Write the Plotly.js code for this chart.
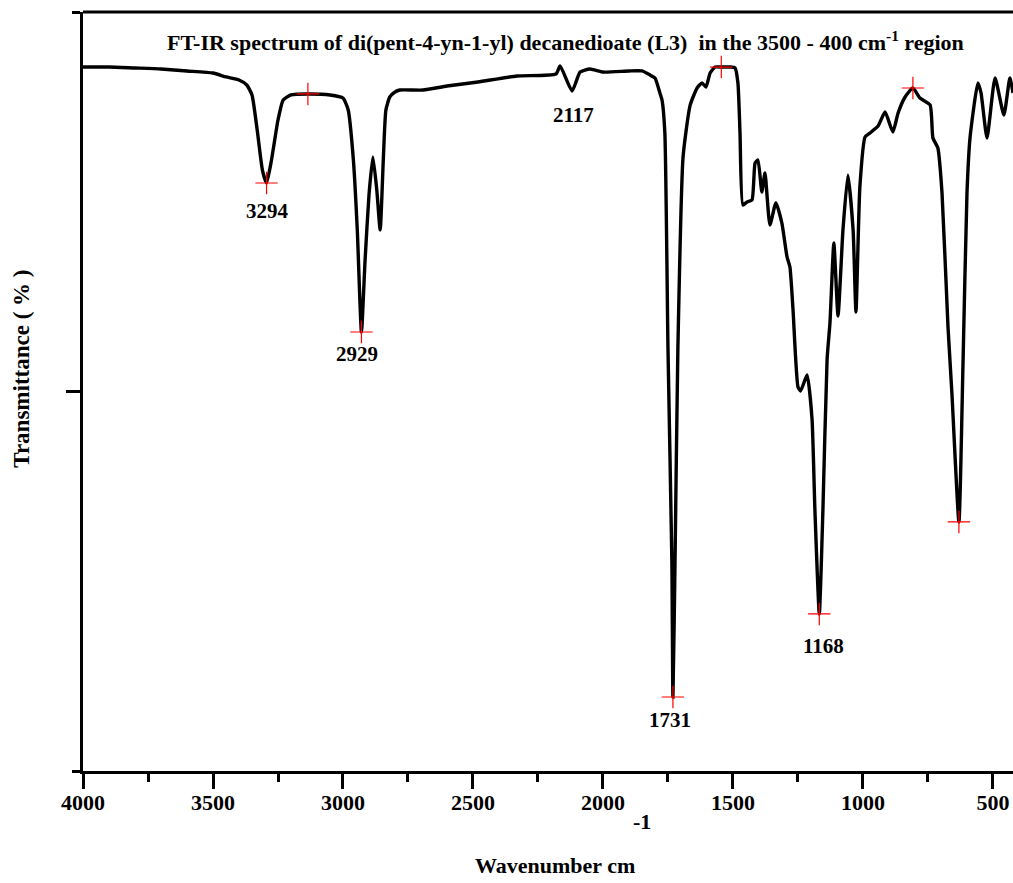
<!DOCTYPE html>
<html>
<head>
<meta charset="utf-8">
<script src="https://cdn.plot.ly/plotly-3.0.1.min.js"></script>
<style>html,body{margin:0;padding:0;background:#fff;}#chart{width:1013px;height:883px;}</style>
</head>
<body>
<div id="chart"></div>
<script>
// Spectrum trace (wavenumber cm-1, transmittance %)
var wavenumber = [4000,3900,3800,3700,3600,3500,3450,3400,3370,3350,3330,3310,3294,3275,3250,3230,3200,3135,3050,3000,2980,2960,2945,2929,2915,2900,2885,2870,2857,2845,2835,2820,2800,2781,2692,2600,2481,2331,2181,2165,2119,2088,2050,2000,1900,1850,1819,1800,1781,1773,1762,1750,1735,1731,1723,1712,1692,1665,1638,1619,1604,1588,1569,1545,1510,1492,1481,1473,1462,1446,1427,1415,1404,1389,1377,1358,1335,1312,1292,1281,1269,1250,1240,1215,1196,1185,1168,1154,1138,1127,1112,1096,1077,1058,1038,1027,1012,992,973,942,915,885,865,838,808,781,742,731,712,696,673,658,631,615,600,588,558,546,523,492,458,435,423];
var transmittance = [92.75,92.75,92.62,92.49,92.23,91.96,91.44,91.04,90.38,89.07,84.45,79.18,77.47,80.50,85.77,88.41,89.07,89.20,89.07,88.67,87.09,80.50,71.28,57.84,67.33,75.89,80.90,76.55,71.28,80.50,87.09,88.80,89.46,89.72,89.72,90.25,90.78,91.57,91.83,92.89,89.59,92.09,92.49,92.09,92.23,92.23,91.70,91.30,89.33,88.41,84.0,55.6,27.4,9.75,27.4,55.6,80.9,87.7,89.99,90.65,90.12,91.96,92.75,92.75,92.75,92.62,90.65,84.06,74.57,74.97,75.23,80.11,80.50,76.28,78.79,71.94,74.84,72.20,67.72,66.40,60.74,50.59,50.07,52.17,46.38,34.52,20.69,34.52,54.28,59.03,69.57,59.95,71.28,78.52,71.28,60.47,76.94,83.53,84.06,84.98,86.82,84.19,86.69,88.80,89.99,88.67,87.75,83.40,82.08,76.15,58.50,49.80,32.81,54.15,76.15,83.53,90.65,89.33,83.40,91.30,86.43,91.30,89.33];

// Marked points (red crosses)
var markWavenumber = [3294,3135,2929,1731,1545,1168,808,631];
var markTransmittance = [77.47,89.20,57.84,9.75,92.75,20.69,89.99,32.81];

// Peak labels
var peakLabels = ["3294","2929","2117","1731","1168"];
var peakLabelX = [3292,2946,2115,1742,1150];
var peakLabelY = [73.8,54.9,86.4,6.7,16.5];

// Axis ticks
var xTickVals = [4000,3500,3000,2500,2000,1500,1000,500];
var xTickText = ["4000","3500","3000","2500","2000","1500","1000","500"];

var serif = "Liberation Serif, Times New Roman, serif";

var traces = [
  {x: wavenumber, y: transmittance, type: "scatter", mode: "lines",
   line: {color: "#000", width: 3.4, shape: "spline", smoothing: 0.5},
   hoverinfo: "skip", showlegend: false},
  {x: markWavenumber, y: markTransmittance, type: "scatter", mode: "markers",
   marker: {symbol: "cross-thin", size: 16, line: {color: "#ff0000", width: 1.2}},
   hoverinfo: "skip", showlegend: false}
];

var annotations = [];
for (var i = 0; i < peakLabels.length; i++) {
  annotations.push({x: peakLabelX[i], y: peakLabelY[i], xref: "x", yref: "y",
    text: peakLabels[i], showarrow: false,
    font: {family: serif, size: 21, color: "#000", weight: "bold"}});
}
annotations.push({x: 0.519, y: 0.962, xref: "paper", yref: "paper", xanchor: "center", yanchor: "middle",
  text: "FT-IR spectrum of di(pent-4-yn-1-yl) decanedioate (L3)  in the 3500 - 400 cm<sup>-1</sup> region",
  showarrow: false, font: {family: serif, size: 22, color: "#000", weight: "bold"}});
annotations.push({x: 0.5075, y: -0.124, xref: "paper", yref: "paper", xanchor: "center", yanchor: "middle",
  text: "Wavenumber cm", showarrow: false,
  font: {family: serif, size: 22, color: "#000", weight: "bold"}});
annotations.push({x: 0.6015, y: -0.067, xref: "paper", yref: "paper", xanchor: "center", yanchor: "middle",
  text: "-1", showarrow: false,
  font: {family: serif, size: 22, color: "#000", weight: "bold"}});
annotations.push({x: -0.0656, y: 0.53, xref: "paper", yref: "paper", xanchor: "center", yanchor: "middle", textangle: -90,
  text: "Transmittance ( % )", showarrow: false,
  font: {family: serif, size: 23, color: "#000", weight: "bold"}});

var layout = {
  width: 1013, height: 883,
  margin: {l: 83, r: 0, t: 12, b: 112, pad: 0},
  paper_bgcolor: "#fff", plot_bgcolor: "#fff",
  showlegend: false,
  xaxis: {range: [4000, 423], showgrid: false, zeroline: false,
    showline: true, linecolor: "#000", linewidth: 3,
    tickmode: "array", tickvals: xTickVals, ticktext: xTickText,
    ticks: "outside", ticklen: 15, tickwidth: 3, tickcolor: "#000",
    ticklabelstandoff: -5,
    minor: {tickmode: "linear", tick0: 3750, dtick: 500, ticks: "outside", ticklen: 8, tickwidth: 3, tickcolor: "#000"},
    tickfont: {family: serif, size: 22, color: "#000", weight: "bold"}},
  yaxis: {range: [0, 100], showgrid: false, zeroline: false,
    showline: true, linecolor: "#000", linewidth: 3,
    tickmode: "array", tickvals: [50], showticklabels: false,
    ticks: "outside", ticklen: 14, tickwidth: 3, tickcolor: "#000",
    minor: {tickmode: "array", tickvals: [0, 100], ticks: "outside", ticklen: 8, tickwidth: 3, tickcolor: "#000"}},
  shapes: [{type: "line", xref: "paper", yref: "paper", x0: 0, x1: 1, y0: 1, y1: 1,
    line: {color: "#000", width: 3}}],
  annotations: annotations
};

Plotly.newPlot("chart", traces, layout, {staticPlot: true, displayModeBar: false});
</script>
</body>
</html>
